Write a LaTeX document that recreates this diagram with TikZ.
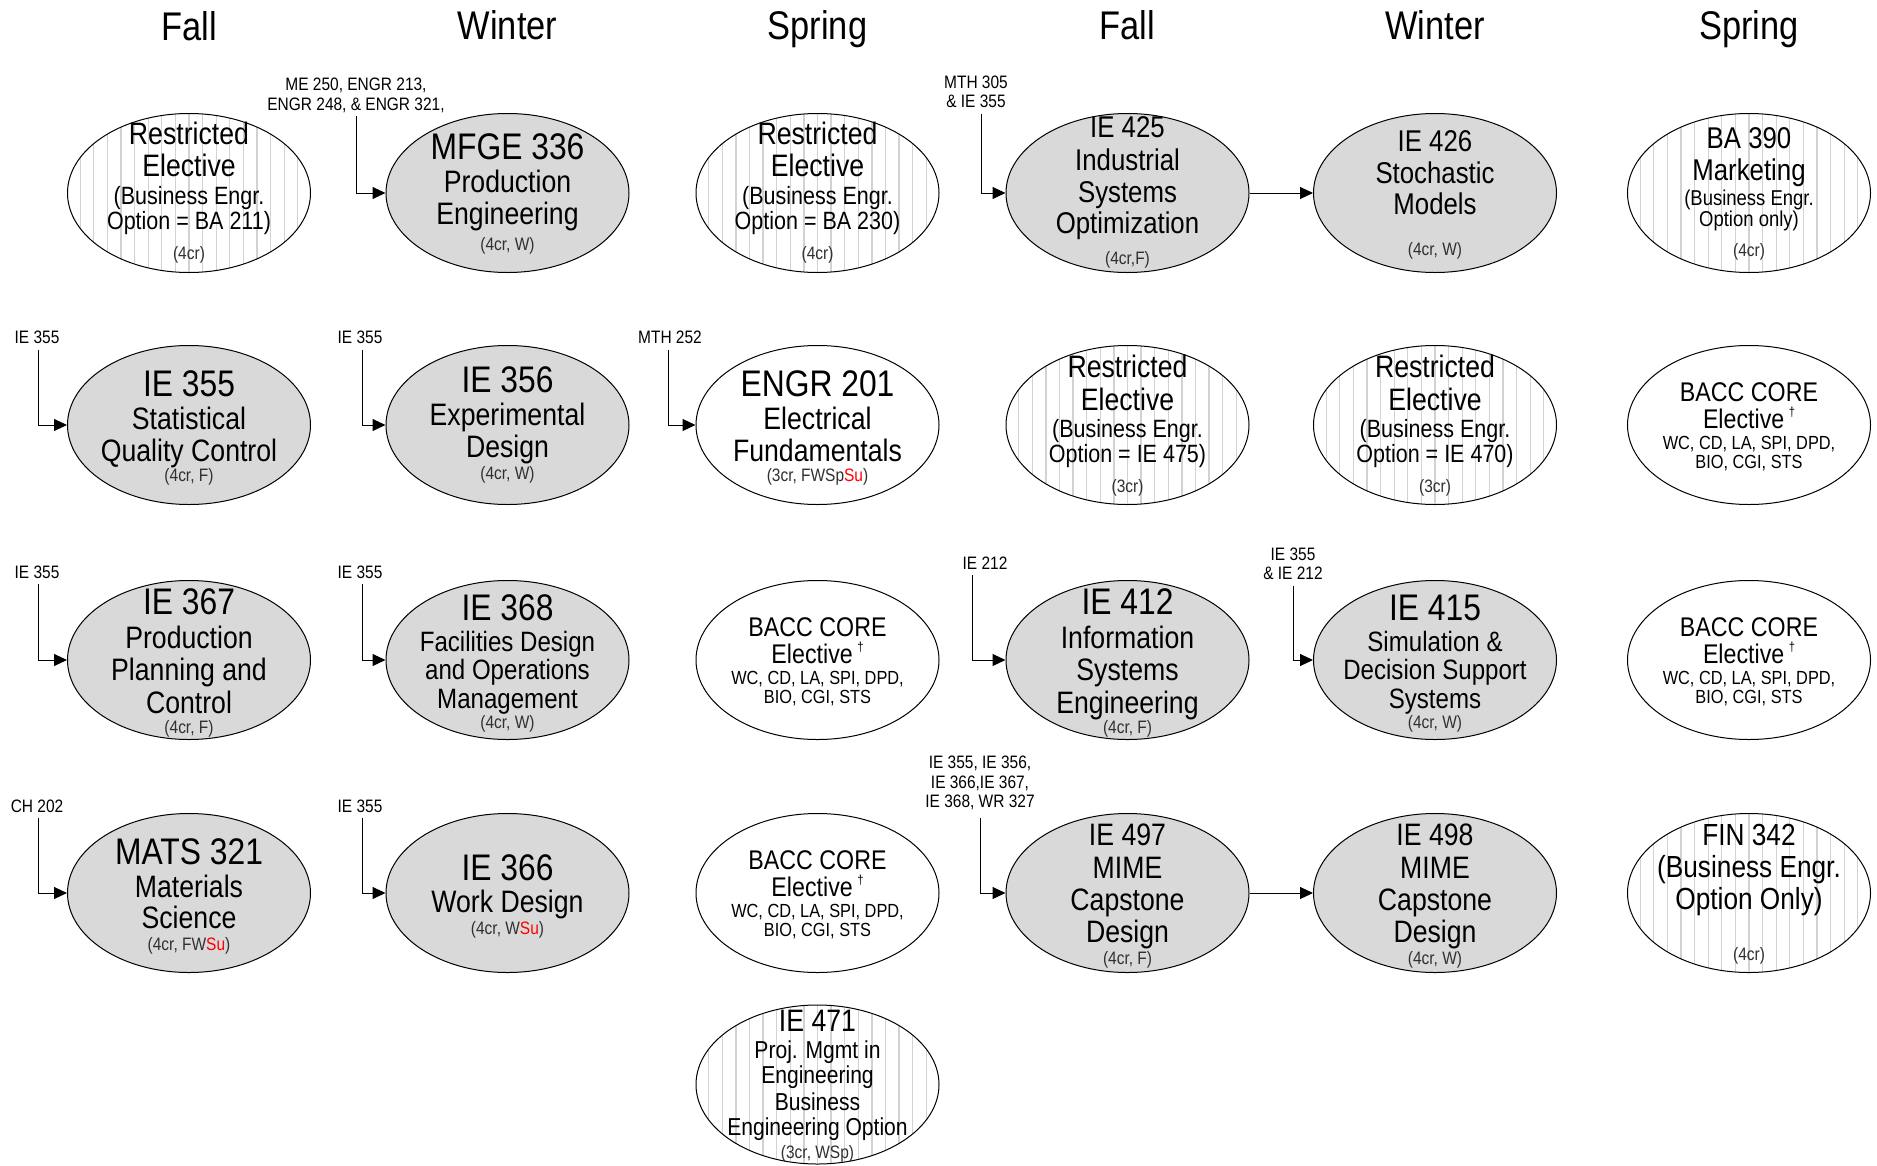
\documentclass[tikz,border=0pt]{standalone}
\usepackage{fontspec}
\setmainfont{Liberation Sans}[FakeStretch=0.86]
\usetikzlibrary{arrows.meta,calc,shapes.geometric}
\definecolor{shadefill}{HTML}{D9D9D9}
\definecolor{hatchcol}{HTML}{D2D2D2}
\definecolor{sured}{HTML}{FF0000}
\definecolor{crgray}{HTML}{303030}
\newcommand\Su{\textcolor{sured}{Su}}
\newcommand\crd[1]{\textcolor{crgray}{#1}}
\newcommand\dg{\,\raisebox{0.45em}{\fontsize{13}{13}\selectfont †}}
\newcommand\txtlines[3]{%
  \foreach \dy/\fs/\tx [count=\i] in {#3}{%
    \pgfmathsetmacro\bl{\dy+0.36*\fs}%
    \node[ln, font=\fontsize{\fs}{\fs}\selectfont] (#1-\i) at ($(#2)+(0,\bl)$) {\tx};
  }%
}
\newcommand\bacc[1]{\txtlines{#1}{#1}{-33.5/27/{BACC CORE}, -6/27/{Elective\dg}, 18/19/{WC, CD, LA, SPI, DPD,}, 37/19/{BIO, CGI, STS}}}
\begin{document}
\begin{tikzpicture}[x=1pt,y=-1pt,
  ell/.style={ellipse, draw=black, line width=1pt, minimum width=243pt, minimum height=159pt, inner sep=0pt},
  core/.style={ell, fill=shadefill},
  open/.style={ell, fill=white},
  hatched/.style={ell, fill=white, path picture={
      \foreach \k in {-9,...,9}{\draw[hatchcol,line width=1.3pt]
        ([xshift=\k*13.6pt]path picture bounding box.south) --
        ([xshift=\k*13.6pt]path picture bounding box.north);}}},
  ln/.style={anchor=base, inner sep=0pt},
  head/.style={anchor=base, inner sep=0pt, font=\fontsize{40}{40}\selectfont},
  arr/.style={line width=1pt, -{Triangle[length=13pt,width=12pt]}},
]
\useasboundingbox (0,0) rectangle (1877,1165);

% headings
\node[head] (h1) at (189,40) {Fall};
\node[head] (h2) at (507.5,39) {Winter};
\node[head] (h3) at (817.5,39) {Spring};
\node[head] (h4) at (1127.5,39) {Fall};
\node[head] (h5) at (1435,39) {Winter};
\node[head] (h6) at (1749,39) {Spring};

% row 1
\node[hatched] (re1) at (189,193) {};
\txtlines{re1}{re1}{-60/31/Restricted, -27.5/31/Elective, 2.4/25/{(Business Engr.}, 27.5/25/{Option = BA 211)}, 60/18/{\crd{(4cr)}}}
\node[core] (mfge) at (507.5,193) {};
\txtlines{mfge}{mfge}{-47/37/{MFGE 336}, -12/31/Production, 20/31/Engineering, 51.5/18/{\crd{(4cr, W)}}}
\node[hatched] (re2) at (817.5,193) {};
\txtlines{re2}{re2}{-60/31/Restricted, -27.5/31/Elective, 2.4/25/{(Business Engr.}, 27.5/25/{Option = BA 230)}, 60/18/{\crd{(4cr)}}}
\node[core] (ie425) at (1127.5,193) {};
\txtlines{ie425}{ie425}{-66/30/{IE 425}, -33.5/30/Industrial, -1/30/Systems, 30/30/Optimization, 64.6/18/{\crd{(4cr,F)}}}
\node[core] (ie426) at (1435,193) {};
\txtlines{ie426}{ie426}{-52.7/30/{IE 426}, -20/30/Stochastic, 10.8/30/Models, 56/18/{\crd{(4cr, W)}}}
\node[hatched] (ba390) at (1749,193) {};
\txtlines{ba390}{ba390}{-55/30/{BA 390}, -23/30/Marketing, 4.8/21.5/{(Business Engr.}, 26/21.5/{Option only)}, 57.5/18/{\crd{(4cr)}}}

% row 2
\node[core] (ie355) at (189,425) {};
\txtlines{ie355}{ie355}{-42/37/{IE 355}, -7/31/Statistical, 25/31/{Quality Control}, 50/18/{\crd{(4cr, F)}}}
\node[core] (ie356) at (507.5,425) {};
\txtlines{ie356}{ie356}{-45.5/37/{IE 356}, -11/31/Experimental, 21.5/31/Design, 48/18/{\crd{(4cr, W)}}}
\node[open] (engr201) at (817.5,425) {};
\txtlines{engr201}{engr201}{-42/37/{ENGR 201}, -7/31/Electrical, 25/31/Fundamentals, 50/18/{\crd{(3cr, FWSp\Su)}}}
\node[hatched] (re3) at (1127.5,425) {};
\txtlines{re3}{re3}{-58.7/31/Restricted, -26/31/Elective, 3.6/25/{(Business Engr.}, 28.7/25/{Option = IE 475)}, 61/18/{\crd{(3cr)}}}
\node[hatched] (re4) at (1435,425) {};
\txtlines{re4}{re4}{-58.7/31/Restricted, -26/31/Elective, 3.6/25/{(Business Engr.}, 28.7/25/{Option = IE 470)}, 61/18/{\crd{(3cr)}}}
\node[open] (bacc1) at (1749,425) {};
\bacc{bacc1}

% row 3
\node[core] (ie367) at (189,660) {};
\txtlines{ie367}{ie367}{-58.7/37/{IE 367}, -22.7/31/Production, 9.6/31/{Planning and}, 42/31/Control, 67/18/{\crd{(4cr, F)}}}
\node[core] (ie368) at (507.5,660) {};
\txtlines{ie368}{ie368}{-52.7/37/{IE 368}, -19/28/{Facilities Design}, 9.6/28/{and Operations}, 38.3/28/Management, 62/18/{\crd{(4cr, W)}}}
\node[open] (bacc2) at (817.5,660) {};
\bacc{bacc2}
\node[core] (ie412) at (1127.5,660) {};
\txtlines{ie412}{ie412}{-58.7/37/{IE 412}, -22.7/31/Information, 9.6/31/Systems, 42/31/Engineering, 67/18/{\crd{(4cr, F)}}}
\node[core] (ie415) at (1435,660) {};
\txtlines{ie415}{ie415}{-52.7/37/{IE 415}, -19/28/{Simulation \&}, 9.6/28/{Decision Support}, 38.3/28/Systems, 62/18/{\crd{(4cr, W)}}}
\node[open] (bacc3) at (1749,660) {};
\bacc{bacc3}

% row 4
\node[core] (mats) at (189,893) {};
\txtlines{mats}{mats}{-42/37/{MATS 321}, -7/31/Materials, 24/31/Science, 51.5/18/{\crd{(4cr, FW\Su)}}}
\node[core] (ie366) at (507.5,893) {};
\txtlines{ie366}{ie366}{-26/37/{IE 366}, 8.4/31/{Work Design}, 34.7/18/{\crd{(4cr, W\Su)}}}
\node[open] (bacc4) at (817.5,893) {};
\bacc{bacc4}
\node[core] (ie497) at (1127.5,893) {};
\txtlines{ie497}{ie497}{-58.7/31/{IE 497}, -26/31/MIME, 6/31/Capstone, 38.3/31/Design, 64.6/18/{\crd{(4cr, F)}}}
\node[core] (ie498) at (1435,893) {};
\txtlines{ie498}{ie498}{-58.7/31/{IE 498}, -26/31/MIME, 6/31/Capstone, 38.3/31/Design, 64.6/18/{\crd{(4cr, W)}}}
\node[hatched] (fin342) at (1749,893) {};
\txtlines{fin342}{fin342}{-58.7/30.5/{FIN 342}, -26/30.5/{(Business Engr.}, 6/30.5/{Option Only)}, 61/18/{\crd{(4cr)}}}

% row 5
\node[hatched] (ie471) at (817.5,1084.5) {};
\txtlines{ie471}{ie471}{-64.6/31/{IE 471}, -34.7/24.5/{Proj. Mgmt in}, -9.6/24.5/Engineering, 16.8/24.5/Business, 42/24.5/{Engineering Option}, 68/18/{\crd{(3cr, WSp)}}}

% prerequisite labels
\txtlines{p1}{356,94}{-10/18/{ME 250, ENGR 213,}, 10/18/{ENGR 248, \& ENGR 321,}}
\txtlines{p2}{976,92}{-9.5/18/{MTH 305}, 9.5/18/{\& IE 355}}
\txtlines{p3}{37,337.5}{0/18/{IE 355}}
\txtlines{p4}{360,337.5}{0/18/{IE 355}}
\txtlines{p5}{670,337.5}{0/18/{MTH 252}}
\txtlines{p6}{37,572}{0/18/{IE 355}}
\txtlines{p7}{360,572}{0/18/{IE 355}}
\txtlines{p8}{985,562.6}{0/18/{IE 212}}
\txtlines{p9}{1293,563.5}{-9.5/18/{IE 355}, 9.5/18/{\& IE 212}}
\txtlines{p10}{37,805.6}{0/18/{CH 202}}
\txtlines{p11}{360,805.6}{0/18/{IE 355}}
\txtlines{p12}{980,781.6}{-19.2/18/{IE 355, IE 356,}, 0/18/{IE 366,IE 367,}, 19.2/18/{IE 368, WR 327}}

% connector start points
\coordinate (k1) at (356,116);
\coordinate (k2) at (981,114);
\coordinate (k3) at (38,350);
\coordinate (k4) at (362,350);
\coordinate (k5) at (668,350);
\coordinate (k6) at (38,584);
\coordinate (k7) at (362,584);
\coordinate (k8) at (972,575);
\coordinate (k9) at (1293,586);
\coordinate (k10) at (38,818);
\coordinate (k11) at (362,818);
\coordinate (k12) at (980,818);

\draw[arr] (k1) |- (mfge.west);
\draw[arr] (k2) |- (ie425.west);
\draw[arr] (k3) |- (ie355.west);
\draw[arr] (k4) |- (ie356.west);
\draw[arr] (k5) |- (engr201.west);
\draw[arr] (k6) |- (ie367.west);
\draw[arr] (k7) |- (ie368.west);
\draw[arr] (k8) |- (ie412.west);
\draw[arr] (k9) |- (ie415.west);
\draw[arr] (k10) |- (mats.west);
\draw[arr] (k11) |- (ie366.west);
\draw[arr] (k12) |- (ie497.west);
\draw[arr] (ie425) -- (ie426);
\draw[arr] (ie497) -- (ie498);
\end{tikzpicture}
\end{document}
